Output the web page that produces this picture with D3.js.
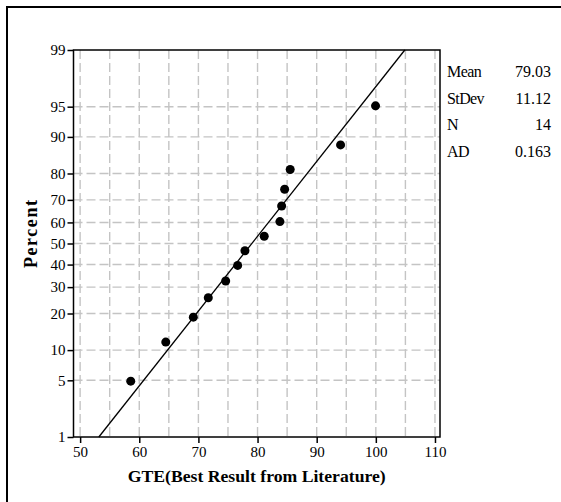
<!DOCTYPE html>
<html>
<head>
<meta charset="utf-8">
<script src="https://cdn.jsdelivr.net/npm/d3@7"></script>
<style>
  body { margin: 0; background: #fff; }
  svg { display: block; }
  text { font-family: "Liberation Serif", "Times New Roman", serif; }
</style>
</head>
<body>
<svg id="chart" width="561" height="502"></svg>
<script>
// ---- data ----
const xValues = [58.56, 64.48, 69.14, 71.67, 74.61, 76.64, 77.87, 81.13, 83.78, 84.07, 84.58, 85.52, 94.04, 99.95];
const percentValues = [4.9, 11.8, 18.8, 25.7, 32.6, 39.6, 46.5, 53.5, 60.4, 67.4, 74.3, 81.3, 88.2, 95.1];
const yTicks = [1, 5, 10, 20, 30, 40, 50, 60, 70, 80, 90, 95, 99];
const xTicks = [50, 60, 70, 80, 90, 100, 110];
const xGrid = [50, 55, 60, 65, 70, 75, 80, 85, 90, 95, 100, 105, 110];
const statLabels = ["Mean", "StDev", "N", "AD"];
const statValues = ["79.03", "11.12", "14", "0.163"];
const fitMean = 79.03, fitSd = 11.12;

// inverse normal CDF (Acklam)
function probit(p) {
  const a = [-3.969683028665376e+01, 2.209460984245205e+02, -2.759285104469687e+02, 1.383577518672690e+02, -3.066479806614716e+01, 2.506628277459239e+00];
  const b = [-5.447609879822406e+01, 1.615858368580409e+02, -1.556989798598866e+02, 6.680131188771972e+01, -1.328068155288572e+01];
  const c = [-7.784894002430293e-03, -3.223964580411365e-01, -2.400758277161838e+00, -2.549732539343734e+00, 4.374664141464968e+00, 2.938163982698783e+00];
  const d = [7.784695709041462e-03, 3.224671290700398e-01, 2.445134137142996e+00, 3.754408661907416e+00];
  const pl = 0.02425, ph = 1 - pl;
  let q, r;
  if (p < pl) { q = Math.sqrt(-2 * Math.log(p)); return (((((c[0]*q+c[1])*q+c[2])*q+c[3])*q+c[4])*q+c[5]) / ((((d[0]*q+d[1])*q+d[2])*q+d[3])*q+1); }
  if (p <= ph) { q = p - 0.5; r = q*q; return (((((a[0]*r+a[1])*r+a[2])*r+a[3])*r+a[4])*r+a[5])*q / (((((b[0]*r+b[1])*r+b[2])*r+b[3])*r+b[4])*r+1); }
  q = Math.sqrt(-2 * Math.log(1 - p));
  return -(((((c[0]*q+c[1])*q+c[2])*q+c[3])*q+c[4])*q+c[5]) / ((((d[0]*q+d[1])*q+d[2])*q+d[3])*q+1);
}

const svg = d3.select("#chart");
const L = 73.5, R = 440, T = 50, B = 437;

const x = d3.scaleLinear().domain([48.88, 110.85]).range([L, R]);
const zScale = d3.scaleLinear().domain([probit(0.01), probit(0.99)]).range([B, T]);
const y = p => zScale(probit(p / 100));

// outer border
svg.append("path").attr("d", `M7,${502 + 5} L7,7 L${561 + 5},7`)
  .attr("fill", "none").attr("stroke", "#000").attr("stroke-width", 2);

// grid
const grid = svg.append("g").attr("stroke", "#c4c4c4").attr("stroke-width", 1.4)
  .attr("stroke-dasharray", "9,4").attr("fill", "none");
grid.selectAll("line.v").data(xGrid).join("line").attr("class", "v")
  .attr("x1", d => x(d)).attr("x2", d => x(d)).attr("y1", T).attr("y2", B);
grid.selectAll("line.h").data(yTicks.filter(d => d > 1 && d < 99)).join("line").attr("class", "h")
  .attr("x1", L).attr("x2", R).attr("y1", d => y(d)).attr("y2", d => y(d));

// frame
svg.append("rect").attr("x", L).attr("y", T).attr("width", R - L).attr("height", B - T)
  .attr("fill", "none").attr("stroke", "#000").attr("stroke-width", 1.5);

// y axis
const yAxis = d3.axisLeft(zScale).tickValues(yTicks.map(p => probit(p / 100)))
  .tickFormat((d, i) => yTicks[i]).tickSize(6).tickPadding(2);
const gy = svg.append("g").attr("transform", `translate(${L},0)`).call(yAxis);
gy.select(".domain").remove();
gy.selectAll(".tick line").attr("stroke", "#000").attr("stroke-width", 1.5);
gy.selectAll(".tick text").attr("font-size", 15).attr("fill", "#000")
  .style("font-family", '"Liberation Serif", serif');

// x axis
const xAxis = d3.axisBottom(x).tickValues(xTicks).tickSize(6).tickPadding(3);
const gx = svg.append("g").attr("transform", `translate(0,${B})`).call(xAxis);
gx.select(".domain").remove();
gx.selectAll(".tick line").attr("stroke", "#000").attr("stroke-width", 1.5);
gx.selectAll(".tick text").attr("font-size", 15).attr("fill", "#000")
  .style("font-family", '"Liberation Serif", serif');

// fitted line
const fitPts = [0.01, 0.99].map(p => [x(fitMean + fitSd * probit(p)), zScale(probit(p))]);
svg.append("path").attr("d", d3.line()(fitPts))
  .attr("stroke", "#000").attr("stroke-width", 1.3).attr("fill", "none");

// points
svg.append("g").selectAll("circle").data(xValues).join("circle")
  .attr("cx", d => x(d)).attr("cy", (d, i) => y(percentValues[i])).attr("r", 4.5).attr("fill", "#000");

// axis titles
svg.append("text").attr("x", (L + R) / 2).attr("y", 482).attr("text-anchor", "middle")
  .attr("font-size", 17).attr("font-weight", "bold")
  .attr("textLength", 258).attr("lengthAdjust", "spacingAndGlyphs")
  .text("GTE(Best Result from Literature)");
svg.append("text").attr("transform", "translate(37,234) rotate(-90)").attr("text-anchor", "middle")
  .attr("font-size", 18).attr("font-weight", "bold")
  .attr("textLength", 68).attr("lengthAdjust", "spacing")
  .text("Percent");

// stats box
const st = svg.append("g").attr("font-size", 16);
st.selectAll("text.l").data(statLabels).join("text").attr("class", "l")
  .attr("x", 447).attr("y", (d, i) => 77.3 + i * 26.5).attr("letter-spacing", -0.6).text(d => d);
st.selectAll("text.v").data(statValues).join("text").attr("class", "v")
  .attr("x", 551).attr("y", (d, i) => 77.3 + i * 26.5).attr("text-anchor", "end").text(d => d);
</script>
</body>
</html>
